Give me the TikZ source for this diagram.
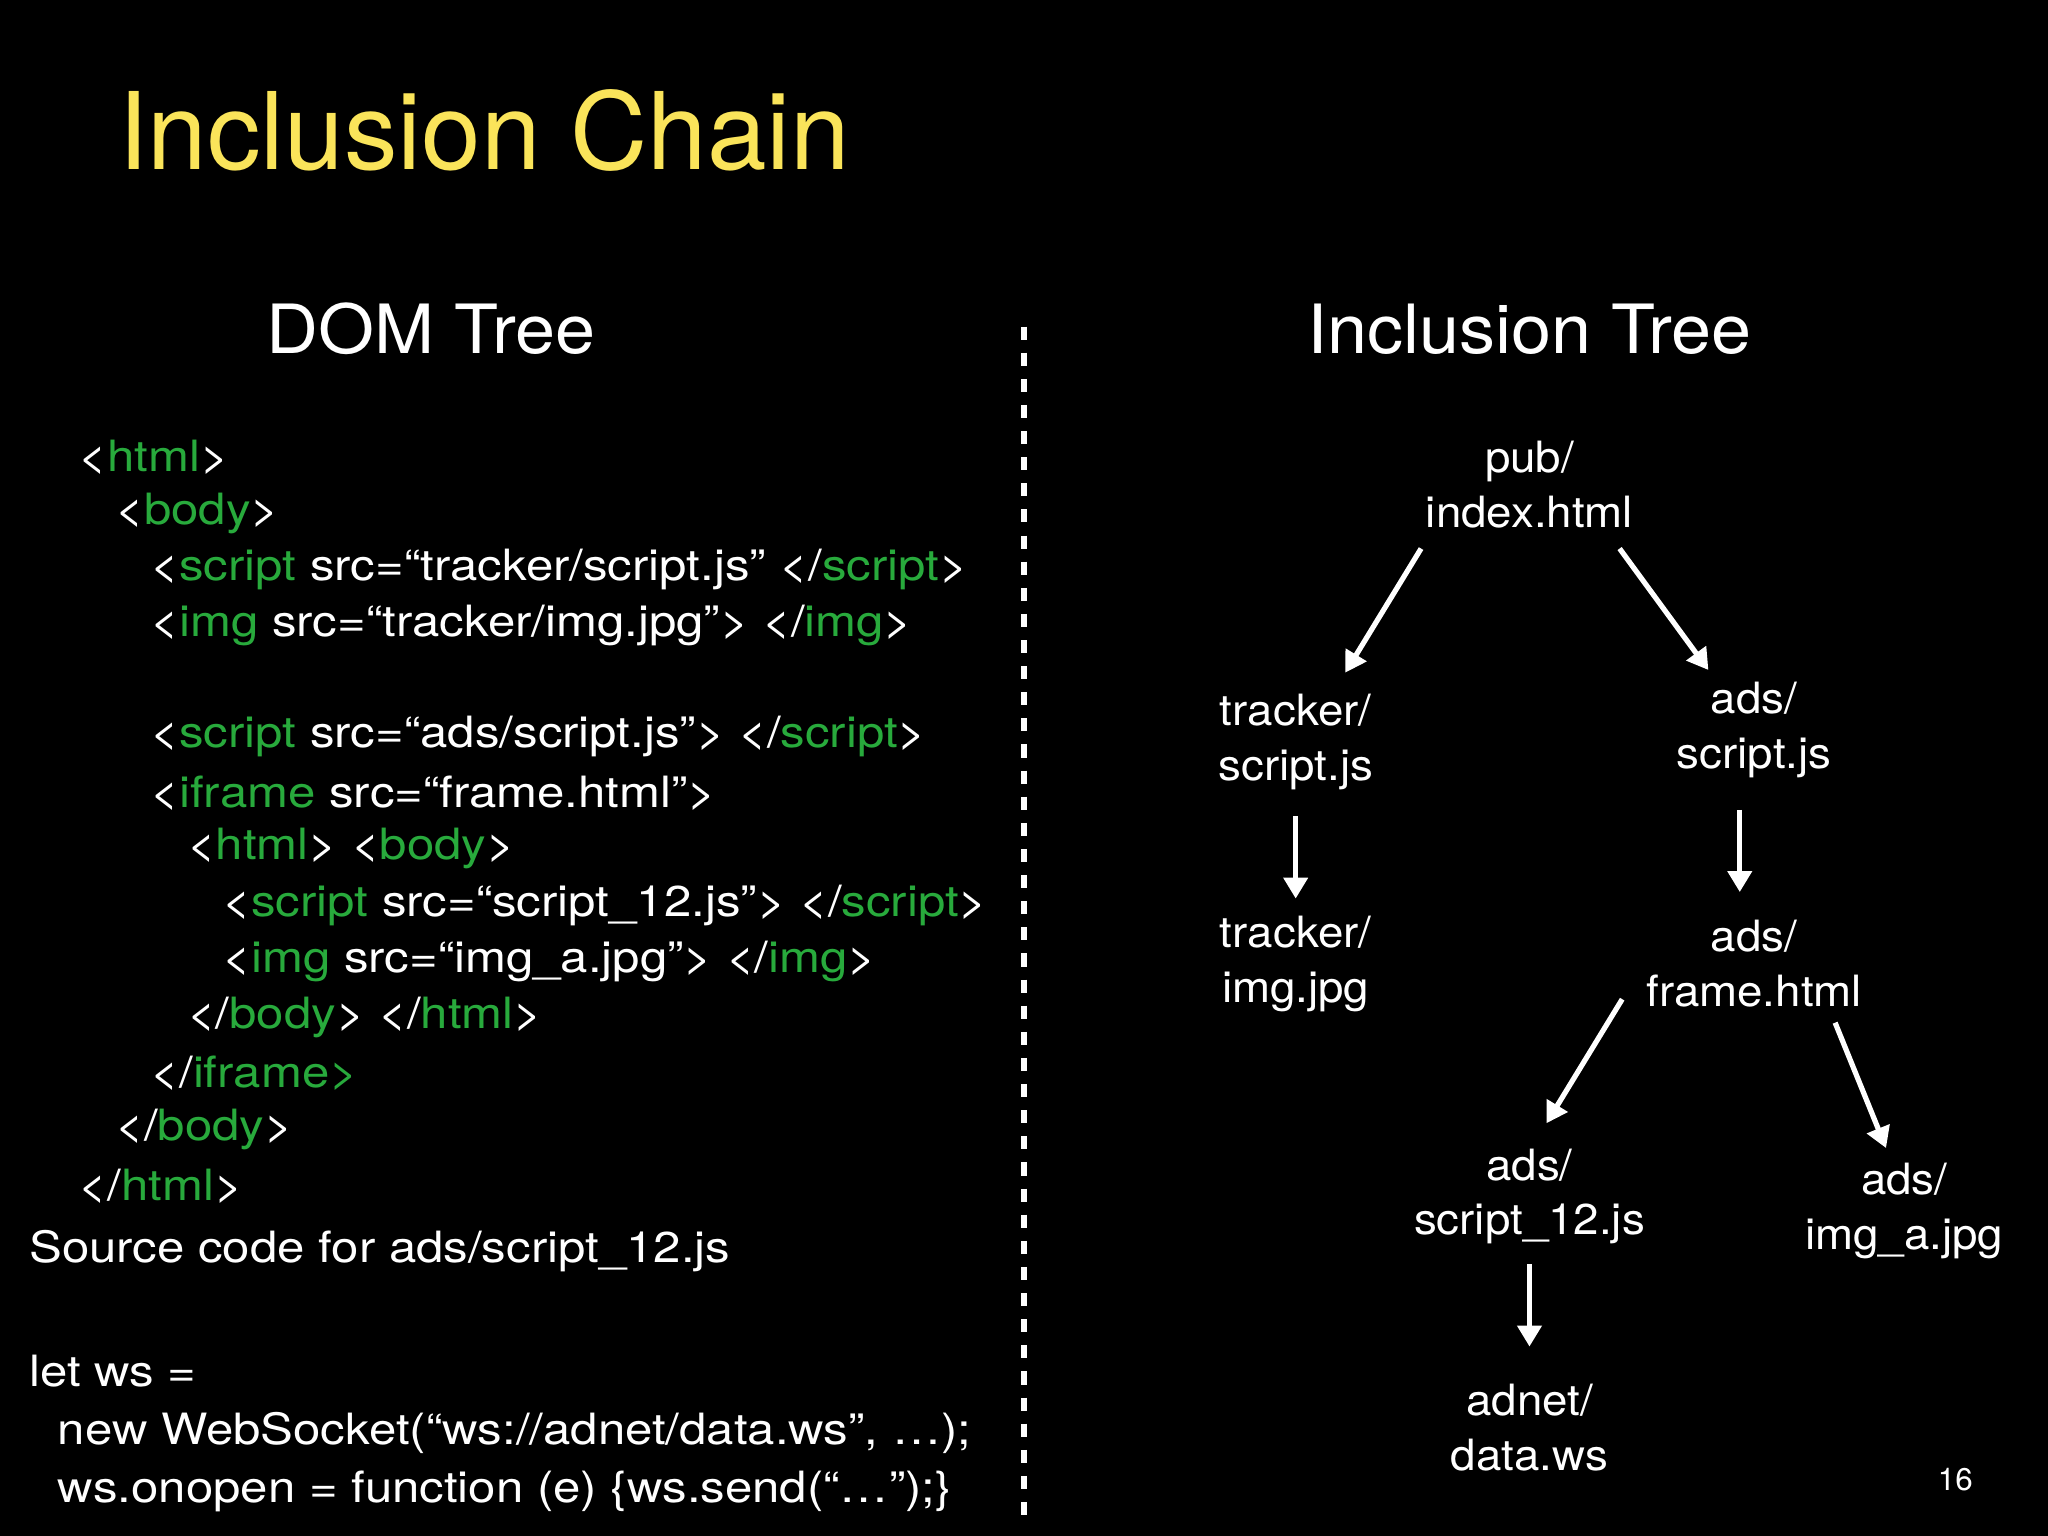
\documentclass[tikz,border=0pt]{standalone}
\usepackage{fontspec}
\setmainfont{TeX Gyre Heros}
\newfontfamily\codefont[FakeStretch=1.14]{TeX Gyre Heros}
\newfontfamily\treefont[FakeStretch=1.06]{TeX Gyre Heros}
\usetikzlibrary{arrows.meta}
\definecolor{grn}{RGB}{40,170,60}
\definecolor{ttl}{RGB}{250,228,90}
\newcommand{\g}[1]{\textcolor{grn}{#1}}
\tikzset{
 code/.style={anchor=west,text=white,font=\codefont\fontsize{16.5}{20}\selectfont,inner sep=0pt},
 tn/.style={text=white,align=center,font=\treefont\fontsize{16.5}{21}\selectfont,inner sep=0pt},
 arr/.style={white,line width=2pt,-{Triangle[length=8pt,width=9pt]}}
}
\begin{document}
\begin{tikzpicture}[x=0.5pt,y=-0.5pt]
\fill[black] (0,0) rectangle (1568,1176);
\useasboundingbox (0,0) rectangle (1568,1176);
\node[anchor=west,text=ttl,font=\fontsize{41}{44}\selectfont,inner sep=0pt] (title) at (90,100) {Inclusion Chain};
\node[text=white,font=\treefont\fontsize{26}{30}\selectfont] (dom) at (330,252) {DOM Tree};
\node[text=white,font=\treefont\fontsize{26}{30}\selectfont] (inc) at (1171,252) {Inclusion Tree};
\node[code] (l1) at (60,350) {<\g{html}>};
\node[code] (l2) at (88,393) {<\g{body}>};
\node[code] (l3) at (115,436) {<\g{script} src=“tracker/script.js” </\g{script}>};
\node[code] (l4) at (115,479) {<\g{img} src=“tracker/img.jpg”> </\g{img}>};
\node[code] (l5) at (115,564) {<\g{script} src=“ads/script.js”> </\g{script}>};
\node[code] (l6) at (115,607) {<\g{iframe} src=“frame.html”>};
\node[code] (l7) at (143,650) {<\g{html}> <\g{body}>};
\node[code] (l8) at (170,693) {<\g{script} src=“script\_12.js”> </\g{script}>};
\node[code] (l9) at (170,736) {<\g{img} src=“img\_a.jpg”> </\g{img}>};
\node[code] (l10) at (143,779) {</\g{body}> </\g{html}>};
\node[code] (l11) at (115,822) {</\g{iframe>}};
\node[code] (l12) at (88,865) {</\g{body}>};
\node[code] (l13) at (60,908) {</\g{html}>};
\node[code] (s1) at (22,958) {Source code for ads/script\_12.js};
\node[code] (s2) at (22,1050) {let ws =};
\node[code] (s3) at (44,1097) {new WebSocket(“ws://adnet/data.ws”, …);};
\node[code] (s4) at (44,1142) {ws.onopen = function (e) \{ws.send(“…”);\}};
\coordinate (dt) at (784,250); \coordinate (db) at (784,1162);
\draw[white,line width=2.5pt,dash pattern=on 5pt off 5pt] (dt) -- (db);
\node[tn] (pub) at (1171,371) {pub/\\index.html};
\node[tn] (ts) at (992,568) {tracker/\\script.js};
\node[tn] (as) at (1343,559) {ads/\\script.js};
\node[tn] (ti) at (992,738) {tracker/\\img.jpg};
\node[tn] (af) at (1343,738) {ads/\\frame.html};
\node[tn] (a12) at (1171,916) {ads/\\script\_12.js};
\node[tn] (aimg) at (1458,927) {ads/\\img\_a.jpg};
\node[tn] (ad) at (1171,1093) {adnet/\\data.ws};
\coordinate (p1) at (1088,420); \coordinate (p2) at (1030,515);
\coordinate (p3) at (1240,420); \coordinate (p4) at (1308,513);
\coordinate (p5) at (992,625); \coordinate (p6) at (992,688);
\coordinate (p7) at (1332,620); \coordinate (p8) at (1332,683);
\coordinate (p9) at (1242,765); \coordinate (p10) at (1184,860);
\coordinate (p11) at (1405,783); \coordinate (p12) at (1444,879);
\coordinate (p13) at (1171,968); \coordinate (p14) at (1171,1031);
\draw[arr] (p1) -- (p2);
\draw[arr] (p3) -- (p4);
\draw[arr] (p5) -- (p6);
\draw[arr] (p7) -- (p8);
\draw[arr] (p9) -- (p10);
\draw[arr] (p11) -- (p12);
\draw[arr] (p13) -- (p14);
\node[text=white,font=\fontsize{12}{14}\selectfont] (pg) at (1497,1133) {16};
\end{tikzpicture}
\end{document}
